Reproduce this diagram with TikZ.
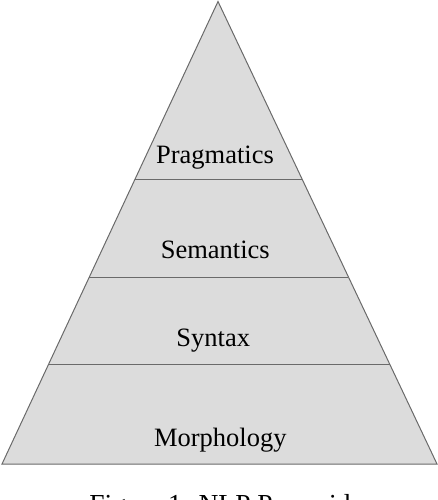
\documentclass[tikz,border=0pt]{standalone}
\usepackage{fontspec}
\setmainfont{Liberation Serif}
\usetikzlibrary{calc}
\definecolor{layerfill}{HTML}{DCDCDC}
\definecolor{edgegray}{HTML}{6A6A6A}
\tikzset{
  layerlabel/.style={anchor=base, inner sep=0pt, font=\fontsize{26.5}{30}\selectfont},
  captiontext/.style={anchor=base, inner sep=0pt, font=\fontsize{27.5}{31}\selectfont},
  divider/.style={draw=edgegray, line width=1pt},
  pyramid/.style={fill=layerfill, draw=edgegray, line width=1pt, line join=miter}
}
\begin{document}
\begin{tikzpicture}[x=1pt, y=-1pt]
\useasboundingbox (0,0) rectangle (438,500);
\coordinate (apex) at (218,1.5);
\coordinate (bl) at (2,464);
\coordinate (br) at (437,464);
\filldraw[pyramid] (bl) -- (apex) -- (br) -- cycle;
% dividers
\coordinate (d1l) at ($(bl)!0.6162!(apex)$);
\coordinate (d1r) at ($(br)!0.6162!(apex)$);
\coordinate (d2l) at ($(bl)!0.4043!(apex)$);
\coordinate (d2r) at ($(br)!0.4043!(apex)$);
\coordinate (d3l) at ($(bl)!0.2141!(apex)$);
\coordinate (d3r) at ($(br)!0.2141!(apex)$);
\draw[divider] (d1l) -- (d1r);
\draw[divider] (d2l) -- (d2r);
\draw[divider] (d3l) -- (d3r);
% labels
\node[layerlabel] (prag) at (215,163) {Pragmatics};
\node[layerlabel] (sem) at (215.3,258.3) {Semantics};
\node[layerlabel] (syn) at (213.3,346) {Syntax};
\node[layerlabel] (mor) at (220.3,446) {Morphology};
\node[captiontext] (cap) at (220,513) {Figure 1: NLP Pyramid};
\end{tikzpicture}
\end{document}
